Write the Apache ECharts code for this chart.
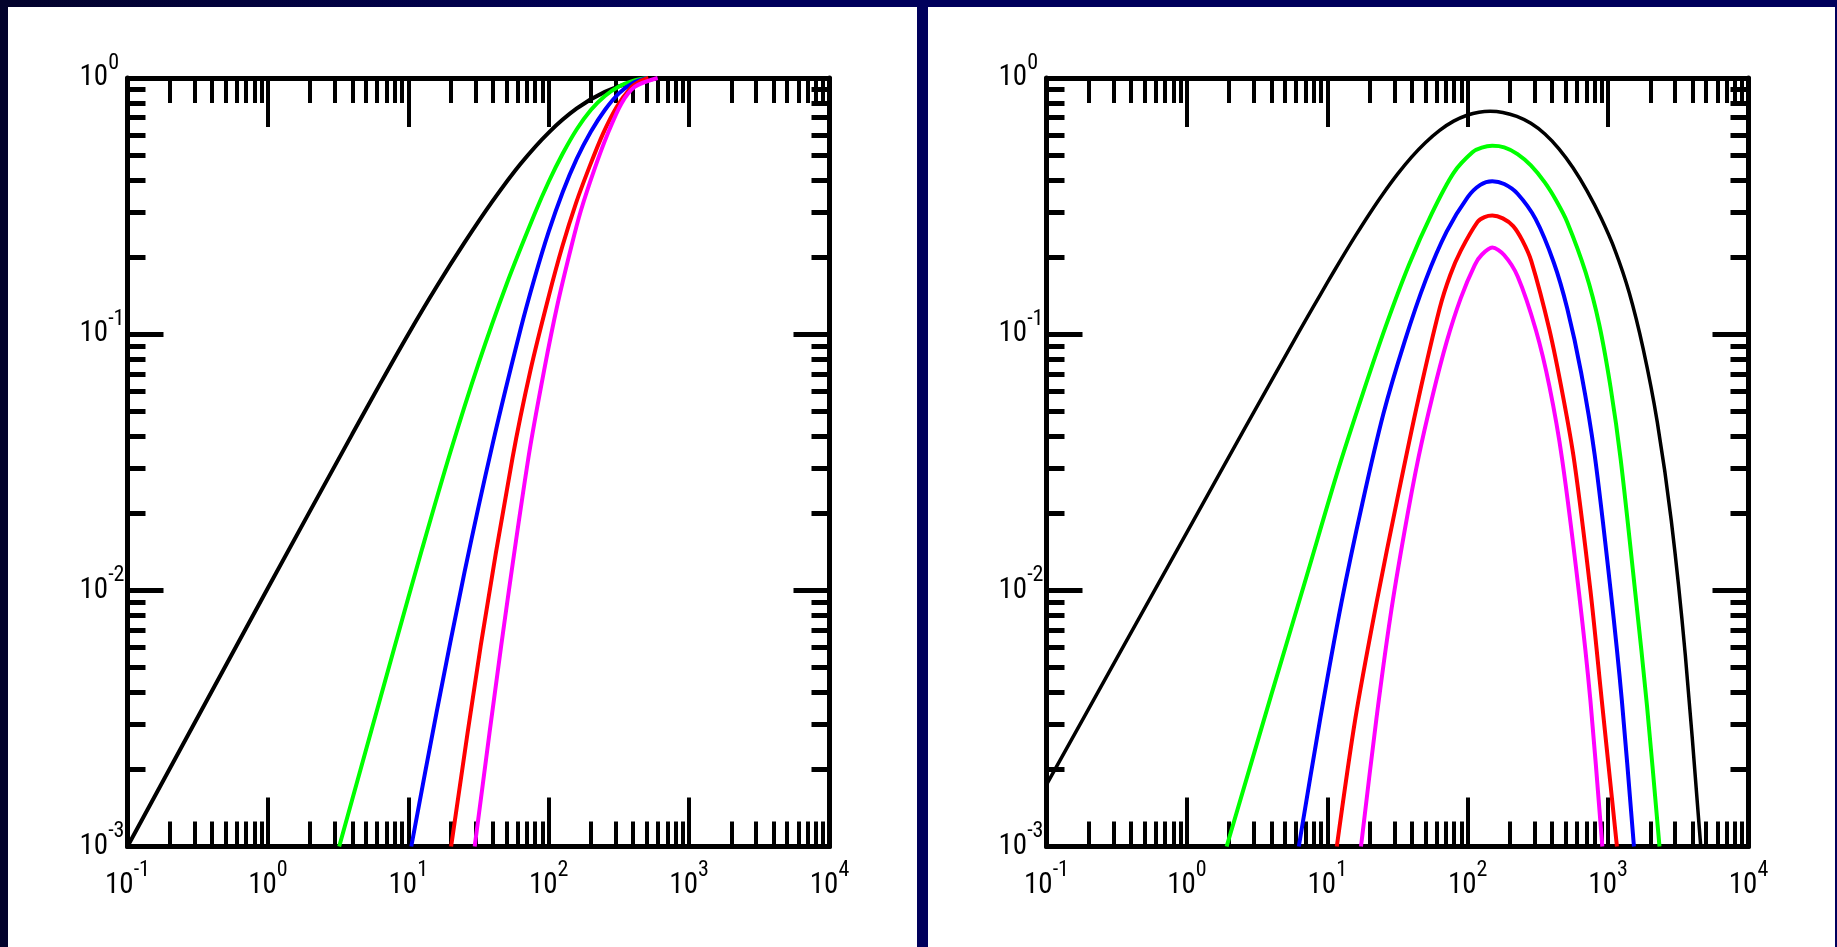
<!DOCTYPE html>
<html>
<head>
<meta charset="utf-8">
<style>
html, body { margin: 0; padding: 0; }
body { width: 1837px; height: 947px; overflow: hidden; position: relative;
       background: linear-gradient(to right, #03032c 0px, #00005c 700px, #00005c 1837px); }
.panel { position: absolute; background: #fff; }
#main { position: absolute; left: 0; top: 0; width: 1837px; height: 947px; }
</style>
<script src="https://cdn.jsdelivr.net/npm/echarts@6/dist/echarts.min.js"></script>
</head>
<body>
<div class="panel" style="left:8px;top:7px;width:909px;height:940px"></div>
<div class="panel" style="left:928px;top:7px;width:907px;height:940px"></div>
<div id="main"></div>
<script>
var xMajor = [0.1, 1, 10, 100, 1000, 10000];
var xMinor = [0.2, 0.3, 0.4, 0.5, 0.6, 0.7, 0.8, 0.9,
              2, 3, 4, 5, 6, 7, 8, 9,
              20, 30, 40, 50, 60, 70, 80, 90,
              200, 300, 400, 500, 600, 700, 800, 900,
              2000, 3000, 4000, 5000, 6000, 7000, 8000, 9000];
var yMajor = [0.001, 0.01, 0.1, 1];
var yMinor = [0.002, 0.003, 0.004, 0.005, 0.006, 0.007, 0.008, 0.009,
              0.02, 0.03, 0.04, 0.05, 0.06, 0.07, 0.08, 0.09,
              0.2, 0.3, 0.4, 0.5, 0.6, 0.7, 0.8, 0.9];

// left panel
var leftBlack = [[0.1,0.001],[1,0.01021],[3.981,0.04064],[6.31,0.06412],[10,0.1],[15.85,0.1528],[25.12,0.2275],[39.81,0.3304],[63.1,0.4624],[100,0.6124],[158.5,0.7603],[251.2,0.8831],[398.1,0.9616],[631,0.9954],[1000,1]];
var leftGreen = [[3.22,0.001],[7.943,0.005957],[12.59,0.01462],[19.95,0.03467],[31.62,0.07674],[50.12,0.1567],[79.43,0.2951],[100,0.3936],[125.9,0.507],[158.5,0.631],[199.5,0.75],[251.2,0.851],[316.2,0.927],[398.1,0.975],[501.2,1]];
var leftBlue  = [[10.5,0.001],[15.85,0.003311],[25.12,0.01175],[39.81,0.03715],[63.1,0.1047],[79.43,0.166],[100,0.2512],[125.9,0.3589],[158.5,0.4842],[199.5,0.6166],[251.2,0.75],[316.2,0.871],[398.1,0.955],[501.2,1]];
var leftRed   = [[20.18,0.001],[32.73,0.00604],[55.21,0.0328],[74.3,0.0726],[100,0.1403],[125,0.2198],[156.3,0.3243],[195.4,0.4508],[244.3,0.6081],[305.5,0.7727],[382,0.912],[446.7,0.9705],[513,1]];
var leftMag   = [[29.7,0.001],[45.8,0.00604],[71.6,0.0328],[92.9,0.0726],[116,0.132],[145,0.22],[169,0.302],[211,0.438],[264,0.608],[330,0.796],[412,0.925],[597,1]];

// right panel
var rightBlack = [[0.1,0.001744],[0.3162,0.00542],[1,0.01685],[2.512,0.04174],[6.31,0.1025],[7.943,0.1277],[10,0.1589],[12.59,0.1967],[15.85,0.2418],[19.95,0.2946],[25.12,0.3549],[31.62,0.4213],[39.81,0.4911],[50.12,0.5601],[63.1,0.6246],[79.43,0.6786],[100,0.7171],[120.2,0.7352],[144.5,0.7413],[177.8,0.7337],[223.9,0.7079],[281.8,0.6653],[354.8,0.6043],[446.7,0.5289],[562.3,0.4461],[707.9,0.3625],[891.3,0.2838],[1122,0.2121],[1413,0.1454],[1778,0.08759],[2239,0.04545],[2818,0.01873],[3548,0.00559],[4571,0.001]];
var rightGreen = [[1.919,0.001],[3.981,0.00389],[7.079,0.01122],[11.94,0.02951],[17.95,0.05888],[26.06,0.1072],[38.11,0.1862],[55.34,0.2951],[79.43,0.4266],[108.1,0.5129],[125.9,0.5346],[149.6,0.5433],[182,0.5358],[226.5,0.5047],[281.8,0.4556],[354,0.3912],[426.6,0.3324],[511.7,0.2737],[691.8,0.1742],[863,0.1096],[1042,0.06194],[1230,0.03236],[1567,0.009616],[1892,0.003548],[2323,0.001]];
var rightBlue  = [[6.266,0.001],[8.913,0.003162],[12.59,0.008913],[17.78,0.02188],[25.12,0.04898],[35.48,0.09333],[50.12,0.1622],[70.79,0.2512],[100,0.3428],[123,0.3828],[149.6,0.3954],[182,0.3855],[226.5,0.3534],[304.1,0.2818],[410.2,0.1905],[511.7,0.1259],[642.7,0.07079],[801.7,0.03388],[1042,0.01],[1253,0.003715],[1528,0.001]];
var rightRed   = [[11.69,0.001],[15.85,0.003162],[22.39,0.008913],[31.62,0.02291],[44.67,0.05623],[63.1,0.1259],[74.99,0.1698],[89.13,0.2113],[117.5,0.2742],[131.8,0.2864],[149.6,0.2904],[177.8,0.2831],[210.9,0.2642],[245.5,0.2317],[283.8,0.1928],[382,0.104],[477.5,0.05715],[575.4,0.03162],[748.2,0.01],[901.6,0.003715],[1156,0.001]];
var rightMag   = [[17.38,0.001],[22.39,0.003162],[28.18,0.007943],[35.48,0.01698],[44.67,0.03311],[56.23,0.05754],[70.79,0.09333],[89.13,0.138],[112.2,0.1862],[125.9,0.2042],[149.6,0.2178],[181.6,0.2037],[227,0.1679],[305.5,0.104],[382,0.06252],[471,0.03236],[620.9,0.00975],[748.2,0.003715],[909.9,0.001]];

var F = '"Roboto Condensed","DejaVu Sans Condensed","Liberation Sans",sans-serif';

function powLabel(v) {
    var e = Math.round(Math.log(v) / Math.LN10);
    return '{b|10}{s|' + e + '}';
}
var rich = {
    b: { fontSize: 29, fontFamily: F, color: '#000', lineHeight: 52 },
    s: { fontSize: 22, fontFamily: F, color: '#000', lineHeight: 22, verticalAlign: 'top' }
};

function xAxes(g) {
    var list = [];
    ['bottom', 'top'].forEach(function (pos) {
        list.push({
            type: 'log', logBase: 10, min: 0.1, max: 10000, gridIndex: g, position: pos,
            axisLine: { show: true, onZero: false, lineStyle: { color: '#000', width: 5 } },
            axisTick: { show: true, inside: true, length: 49, customValues: xMajor,
                        lineStyle: { color: '#000', width: 4 } },
            axisLabel: { show: pos === 'bottom', customValues: xMajor, margin: 13,
                         formatter: powLabel, rich: rich },
            splitLine: { show: false }
        });
        list.push({
            type: 'log', logBase: 10, min: 0.1, max: 10000, gridIndex: g, position: pos,
            axisLine: { show: false, onZero: false },
            axisTick: { show: true, inside: true, length: 25, customValues: xMinor,
                        lineStyle: { color: '#000', width: 4 } },
            axisLabel: { show: false },
            splitLine: { show: false }
        });
    });
    return list;
}

function yAxes(g) {
    var list = [];
    ['left', 'right'].forEach(function (pos) {
        list.push({
            type: 'log', logBase: 10, min: 0.001, max: 1, gridIndex: g, position: pos,
            axisLine: { show: true, onZero: false, lineStyle: { color: '#000', width: 5 } },
            axisTick: { show: true, inside: true, length: 36, customValues: yMajor,
                        lineStyle: { color: '#000', width: 5 } },
            axisLabel: { show: pos === 'left', customValues: yMajor, margin: 48, align: 'left',
                         formatter: powLabel, rich: rich },
            splitLine: { show: false }
        });
        list.push({
            type: 'log', logBase: 10, min: 0.001, max: 1, gridIndex: g, position: pos,
            axisLine: { show: false, onZero: false },
            axisTick: { show: true, inside: true, length: 18, customValues: yMinor,
                        lineStyle: { color: '#000', width: 5 } },
            axisLabel: { show: false },
            splitLine: { show: false }
        });
    });
    return list;
}

function line(data, color, g, w) {
    return {
        type: 'line', data: data, xAxisIndex: g * 4, yAxisIndex: g * 4,
        symbol: 'none', smooth: 0.3, clip: true,
        lineStyle: { color: color, width: w || 4 }
    };
}

var chart = echarts.init(document.getElementById('main'));
chart.setOption({
    animation: false,
    backgroundColor: 'transparent',
    grid: [
        { left: 127.5, top: 78, width: 702, height: 768.5 },
        { left: 1046.5, top: 78, width: 702, height: 768.5 }
    ],
    xAxis: xAxes(0).concat(xAxes(1)),
    yAxis: yAxes(0).concat(yAxes(1)),
    series: [
        line(leftBlack, '#000000', 0, 4),
        line(leftGreen, '#00ff00', 0),
        line(leftBlue, '#0000ff', 0),
        line(leftRed, '#ff0000', 0),
        line(leftMag, '#ff00ff', 0),
        line(rightBlack, '#000000', 1, 3.5),
        line(rightGreen, '#00ff00', 1),
        line(rightBlue, '#0000ff', 1),
        line(rightRed, '#ff0000', 1),
        line(rightMag, '#ff00ff', 1)
    ]
});
</script>
</body>
</html>
